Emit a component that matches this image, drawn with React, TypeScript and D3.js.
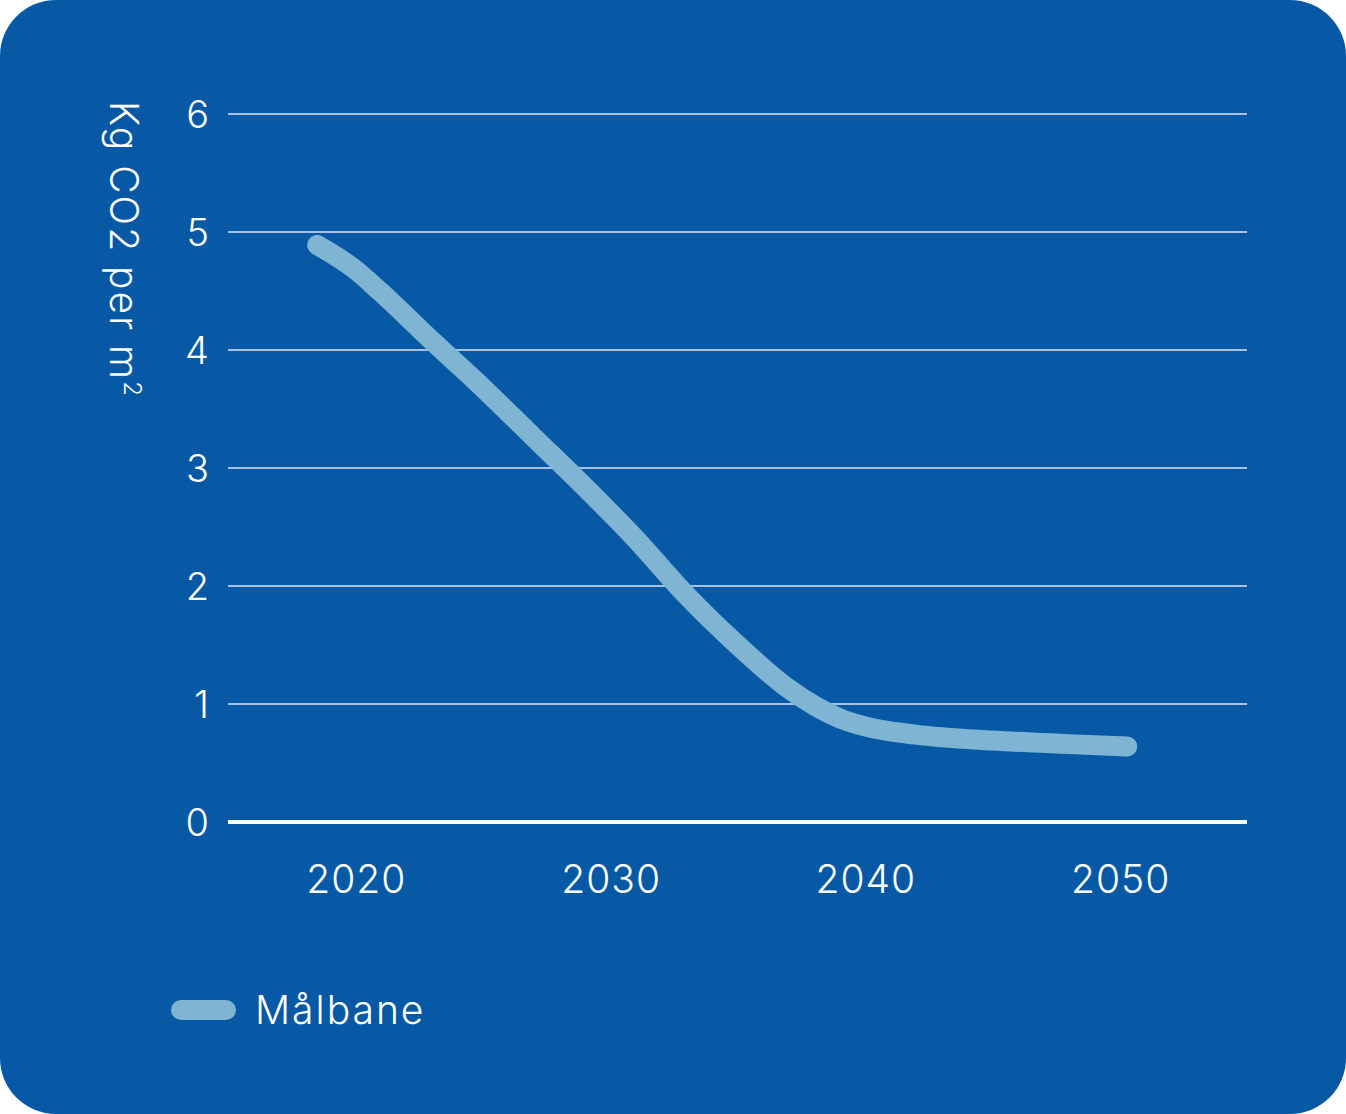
import React, { useEffect } from 'react';
import * as d3 from 'd3';

// Målbane, kg CO2 per m2
const years = [2018.5, 2020, 2021, 2023, 2025, 2027, 2029, 2031, 2033, 2035, 2037, 2039, 2040, 2042, 2045, 2048, 2050.3];
const values = [4.89, 4.68, 4.49, 4.08, 3.68, 3.26, 2.84, 2.4, 1.92, 1.5, 1.13, 0.88, 0.81, 0.74, 0.69, 0.66, 0.64];
const yTicks = [0, 1, 2, 3, 4, 5, 6];
const xTicks = [2020, 2030, 2040, 2050];
const seriesName = 'Målbane';
const yTitle = 'Kg CO2 per m';

const W = 1346;
const H = 1114;
const BG = '#0759a5';
const LINE = '#7fb4d3';
const FONT = 'Inter, sans-serif';

function App() {
  useEffect(() => {
    document.body.style.margin = '0';
  }, []);

  const x = d3.scaleLinear().domain([2015, 2055]).range([228, 1247]);
  const y = d3.scaleLinear().domain([0, 6]).range([822, 114]);

  const pts = years.map((yr, i) => [yr, values[i]] as [number, number]);
  const line = d3
    .line<[number, number]>()
    .x((d) => x(d[0]))
    .y((d) => y(d[1]))
    .curve(d3.curveMonotoneX);

  return (
    <svg width={W} height={H} style={{ display: 'block' }}>
      <rect x={0} y={0} width={W} height={H} rx={56} ry={56} fill={BG} />

      {yTicks.map((t) => (
        <g key={t}>
          <line
            x1={x.range()[0]}
            x2={x.range()[1]}
            y1={y(t)}
            y2={y(t)}
            stroke={t === 0 ? '#ffffff' : '#dfe4f4'}
            strokeWidth={t === 0 ? 4 : 1.5}
          />
          <text
            x={209}
            y={y(t)}
            dy="0.36em"
            textAnchor="end"
            fill="#fff"
            fontFamily={FONT}
            fontWeight={300}
            fontSize={38}
          >
            {t}
          </text>
        </g>
      ))}

      {xTicks.map((t) => (
        <text
          key={t}
          x={x(t) + 1}
          y={893}
          textAnchor="middle"
          fill="#fff"
          fontFamily={FONT}
          fontWeight={300}
          fontSize={39}
          letterSpacing={1}
        >
          {t}
        </text>
      ))}

      <text
        transform="translate(110,101) rotate(90)"
        fill="#fff"
        fontFamily={FONT}
        fontWeight={300}
        fontSize={39}
        letterSpacing={2}
      >
        {yTitle}
        <tspan fontSize={24} dy={-14}>2</tspan>
      </text>

      <path
        d={line(pts) || ''}
        fill="none"
        stroke={LINE}
        strokeWidth={20}
        strokeLinecap="round"
        strokeLinejoin="round"
      />

      <line x1={181} x2={226} y1={1010} y2={1010} stroke={LINE} strokeWidth={20} strokeLinecap="round" />
      <text
        x={255}
        y={1024}
        fill="#fff"
        fontFamily={FONT}
        fontWeight={300}
        fontSize={39}
        letterSpacing={2}
      >
        {seriesName}
      </text>
    </svg>
  );
}

export default App;
